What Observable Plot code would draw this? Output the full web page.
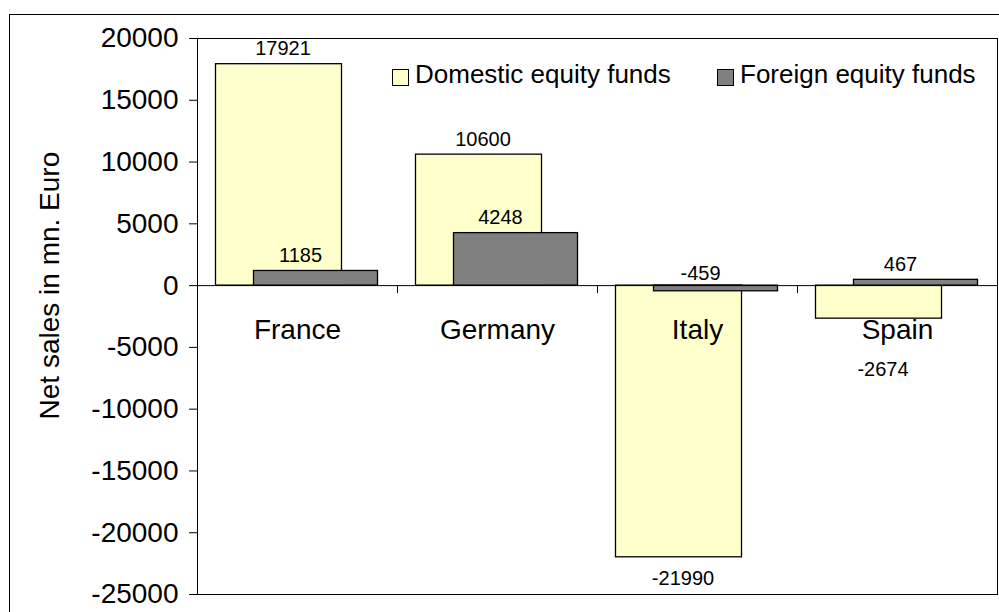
<!DOCTYPE html>
<html>
<head>
<meta charset="utf-8">
<script src="https://cdn.jsdelivr.net/npm/d3@7"></script>
<script src="https://cdn.jsdelivr.net/npm/@observablehq/plot@0.6"></script>
<style>
  html, body { margin: 0; padding: 0; background: #fff; }
  #wrap { position: relative; width: 999px; height: 612px; overflow: hidden; background: #fff;
          font-family: "Liberation Sans", Arial, sans-serif; }
  #chart { position: absolute; left: 0; top: 0; }
  #outer { position: absolute; left: 9px; top: 14px; width: 1200px; height: 900px;
           border: 1px solid #000; pointer-events: none; }
  .lg-box { position: absolute; width: 15px; height: 15px; border: 1px solid #000; }
  .lg-text { position: absolute; font-size: 26px; line-height: 26px; color: #000; white-space: nowrap; }
</style>
</head>
<body>
<div id="wrap">
  <div id="chart"></div>
  <div id="outer"></div>
  <div id="legend"></div>
</div>
<script>
const categories = ["France", "Germany", "Italy", "Spain"];
const domesticValues = [17921, 10600, -21990, -2674];
const foreignValues = [1185, 4248, -459, 467];
const seriesNames = ["Domestic equity funds", "Foreign equity funds"];
const seriesColors = ["#FFFFCC", "#808080"];
const yTicks = [20000, 15000, 10000, 5000, 0, -5000, -10000, -15000, -20000, -25000];
const yTitle = "Net sales in mn. Euro";

const domestic = categories.map((c, i) => ({category: c, value: domesticValues[i]}));
const foreign = categories.map((c, i) => ({category: c, value: foreignValues[i]}));

const FONT = "'Liberation Sans', Arial, sans-serif";

// value-label placement rules (Excel-like)
function labelMarks(rows, dx) {
  const common = {x: "category", text: d => String(d.value), dx, fontSize: 20, fill: "#000"};
  return [
    Plot.text(rows.filter(d => d.value > 0), {...common, y: "value", lineAnchor: "bottom", dy: -9}),
    Plot.text(rows.filter(d => d.value <= -5000), {...common, y: "value", lineAnchor: "top", dy: 13}),
    Plot.text(rows.filter(d => d.value < 0 && d.value > -1000), {...common, y: () => 0, lineAnchor: "bottom", dy: -6}),
    Plot.text(rows.filter(d => d.value <= -1000 && d.value > -5000), {...common, y: () => 0, lineAnchor: "bottom", dy: 90})
  ];
}

const chart = Plot.plot({
  width: 999,
  height: 612,
  marginLeft: 197,
  marginRight: 2,
  marginTop: 38,
  marginBottom: 18,
  style: {fontFamily: FONT, fontSize: "28px", color: "#000", background: "transparent", overflow: "visible"},
  x: {type: "band", domain: categories, paddingInner: 0.37, paddingOuter: 0.185, axis: null},
  y: {domain: [-25000, 20000], ticks: yTicks, tickFormat: d => String(d), tickSize: 8, tickPadding: 11, label: null},
  marks: [
    Plot.barY(domestic, {x: "category", y: "value", fill: seriesColors[0], stroke: "#000", strokeWidth: 1.3, dx: -18.5}),
    Plot.barY(foreign, {x: "category", y: "value", fill: seriesColors[1], stroke: "#000", strokeWidth: 1.3, dx: 18.5, insetLeft: 1, insetRight: 1}),
    Plot.ruleY([0], {stroke: "#000", strokeWidth: 1}),
    Plot.ruleX(categories.slice(1), {x: d => d, y1: () => 0, y2: () => 0, dx: -100, insetBottom: -8, stroke: "#000"}),
    Plot.frame({stroke: "#000", strokeWidth: 1}),
    ...labelMarks(domestic, -14.5),
    ...labelMarks(foreign, 3),
    Plot.text(categories, {x: d => d, y: () => 0, text: d => d, dy: 53, lineAnchor: "bottom", fontSize: 28, fill: "#000"}),
    Plot.text([yTitle], {y: () => 0, text: d => d, frameAnchor: "left", dx: -147, rotate: -90,
      textAnchor: "middle", lineAnchor: "middle", fontSize: 28, fill: "#000"})
  ]
});
document.getElementById("chart").appendChild(chart);

// legend (inside the plot area, top right)
const legend = document.getElementById("legend");
const legendPos = [{box: 392, text: 415}, {box: 717, text: 740}];
seriesNames.forEach((name, i) => {
  const b = document.createElement("div");
  b.className = "lg-box";
  b.style.left = legendPos[i].box + "px";
  b.style.top = "69px";
  b.style.background = seriesColors[i];
  legend.appendChild(b);
  const t = document.createElement("div");
  t.className = "lg-text";
  t.style.left = legendPos[i].text + "px";
  t.style.top = "61px";
  t.textContent = name;
  legend.appendChild(t);
});
</script>
</body>
</html>
